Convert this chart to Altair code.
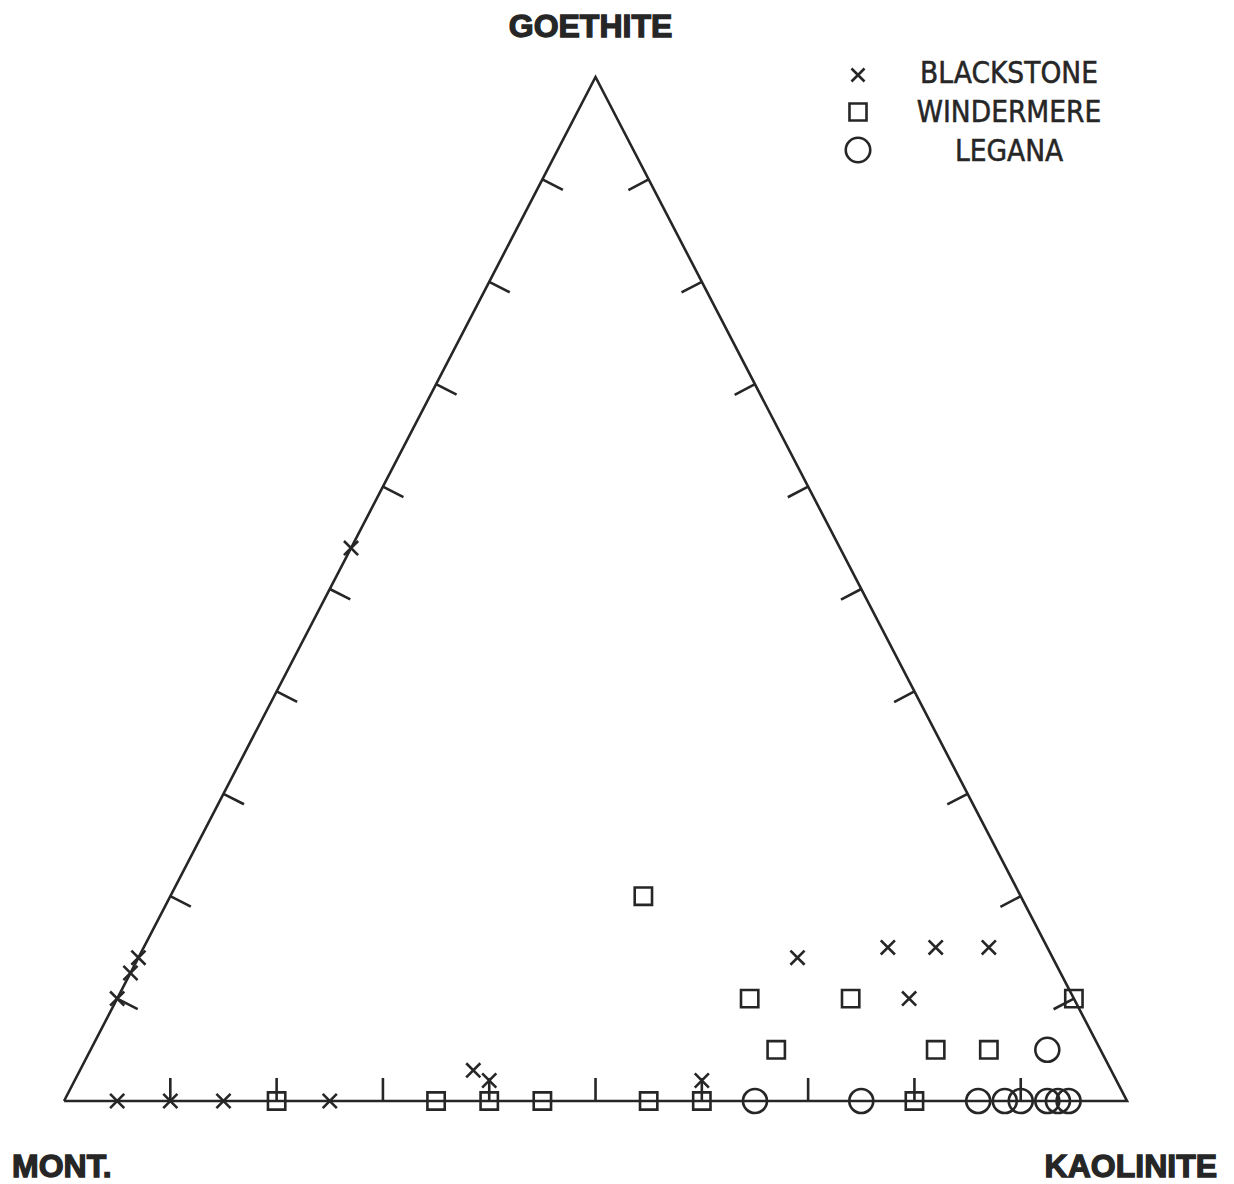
import altair as alt
import pandas as pd

# Ternary compositions: % kaolinite and % goethite (montmorillonite is the remainder)
series_names = ["BLACKSTONE", "WINDERMERE", "LEGANA"]

blackstone_kaol = [5, 10, 15, 25, 37, 39, 59, 62, 70, 74.5, 79.5, 74.5, 0, 0, 0, 0]
blackstone_goe = [0, 0, 0, 0, 3, 2, 2, 14, 15, 15, 15, 10, 14, 12.5, 10, 54]

windermere_kaol = [20, 35, 40, 45, 55, 60, 80, 44.5, 59.5, 69, 64.5, 79.5, 84.5, 90]
windermere_goe = [0, 0, 0, 0, 0, 0, 0, 20, 10, 10, 5, 5, 5, 10]

legana_kaol = [65, 75, 86, 88.5, 90, 92.5, 93.5, 94.5, 90]
legana_goe = [0, 0, 0, 0, 0, 0, 0, 0, 5]

tick_values = [10, 20, 30, 40, 50, 60, 70, 80, 90]
vertex_names = ["MONT.", "KAOLINITE", "GOETHITE"]

# ---------------------------------------------------------------------------
W, H = 1218, 1176
INK = "#262626"
XPATH = "M-1,-1L1,1M-1,1L1,-1"
SW = 2.6

xs = alt.Scale(domain=[-5.27, 109.31], nice=False, zero=False)
ys = alt.Scale(domain=[-8.105, 106.74], nice=False, zero=False)

# triangle outline (vertices in ternary coordinates)
tri = pd.DataFrame({
    "kaol": [0, 100, 0, 0],
    "goe": [0, 0, 100, 0],
    "order": [0, 1, 2, 3],
})

ticks = pd.DataFrame({"p": tick_values})

def XY(base):
    return base.transform_calculate(
        X="datum.kaol + datum.goe / 2", Y="datum.goe"
    )

outline = XY(alt.Chart(tri).mark_line(
    color=INK, strokeWidth=SW, strokeJoin="miter", clip=False
)).encode(
    x=alt.X("X:Q", scale=xs, axis=None),
    y=alt.Y("Y:Q", scale=ys, axis=None),
    order="order:O",
)

bottom_ticks = alt.Chart(ticks).mark_rule(color=INK, strokeWidth=SW).transform_calculate(
    X="datum.p", Y="0", X2="datum.p", Y2="2.25"
).encode(x=alt.X("X:Q", scale=xs, axis=None), y=alt.Y("Y:Q", scale=ys, axis=None),
         x2="X2:Q", y2="Y2:Q")

left_ticks = alt.Chart(ticks).mark_rule(color=INK, strokeWidth=SW).transform_calculate(
    X="datum.p / 2", Y="datum.p", X2="datum.p / 2 + 1.93", Y2="datum.p - 1.02"
).encode(x=alt.X("X:Q", scale=xs, axis=None), y=alt.Y("Y:Q", scale=ys, axis=None),
         x2="X2:Q", y2="Y2:Q")

right_ticks = alt.Chart(ticks).mark_rule(color=INK, strokeWidth=SW).transform_calculate(
    X="100 - datum.p / 2", Y="datum.p", X2="100 - datum.p / 2 - 1.91", Y2="datum.p - 1.04"
).encode(x=alt.X("X:Q", scale=xs, axis=None), y=alt.Y("Y:Q", scale=ys, axis=None),
         x2="X2:Q", y2="Y2:Q")

shapes = [XPATH, "square", "circle"]
sizes = [200, 300, 576]
point_layers = []
for name, ks, gs, shp, sz in zip(series_names,
                                 [blackstone_kaol, windermere_kaol, legana_kaol],
                                 [blackstone_goe, windermere_goe, legana_goe],
                                 shapes, sizes):
    sdf = pd.DataFrame({"series": name, "kaol": ks, "goe": gs})
    point_layers.append(
        XY(alt.Chart(sdf).mark_point(
            shape=shp, size=sz, filled=False, strokeWidth=SW, color=INK, opacity=1
        )).encode(
            x=alt.X("X:Q", scale=xs, axis=None),
            y=alt.Y("Y:Q", scale=ys, axis=None),
        )
    )

# vertex labels
vdf = pd.DataFrame({"name": vertex_names, "kaol": [0, 100, 0], "goe": [0, 0, 100]})
label_font = "Liberation Sans"
vlabels = []
for name, align, dx, dy in [("MONT.", "left", -52, 76),
                            ("KAOLINITE", "right", 90, 76),
                            ("GOETHITE", "center", -5, -40)]:
    vlabels.append(
        XY(alt.Chart(vdf).transform_filter(alt.datum.name == name).mark_text(
            font=label_font, fontSize=32, fontWeight="bold", color=INK,
            stroke=INK, strokeWidth=1.3,
            align=align, baseline="alphabetic", dx=dx, dy=dy,
        )).encode(x=alt.X("X:Q", scale=xs, axis=None),
                  y=alt.Y("Y:Q", scale=ys, axis=None), text="name:N")
    )

# manual legend
leg_layers = []
leg_sizes = [170, 290, 600]
leg_sym_y = [67, 104, 142]
leg_txt_y = [75, 114, 153]
for name, shp, sz, sy, ty in zip(series_names, shapes, leg_sizes, leg_sym_y, leg_txt_y):
    ldf = pd.DataFrame({"series": [name]})
    leg_layers.append(alt.Chart(ldf).mark_point(
        shape=shp, size=sz, filled=False, strokeWidth=SW, color=INK, opacity=1
    ).encode(x=alt.value(850), y=alt.value(sy)))
    leg_layers.append(alt.Chart(ldf).mark_text(
        font="DejaVu Sans Condensed, DejaVu Sans", fontSize=29.5, color=INK,
        stroke=INK, strokeWidth=0.5,
        align="center", baseline="alphabetic"
    ).encode(x=alt.value(1001), y=alt.value(ty), text="series:N"))

chart = alt.layer(
    outline, bottom_ticks, left_ticks, right_ticks, *point_layers, *vlabels, *leg_layers
).properties(
    width=W, height=H, padding=0, autosize="none", background="white"
).configure_view(strokeWidth=0)

chart.save("out.html", embed_options={"renderer": "svg", "actions": False})
